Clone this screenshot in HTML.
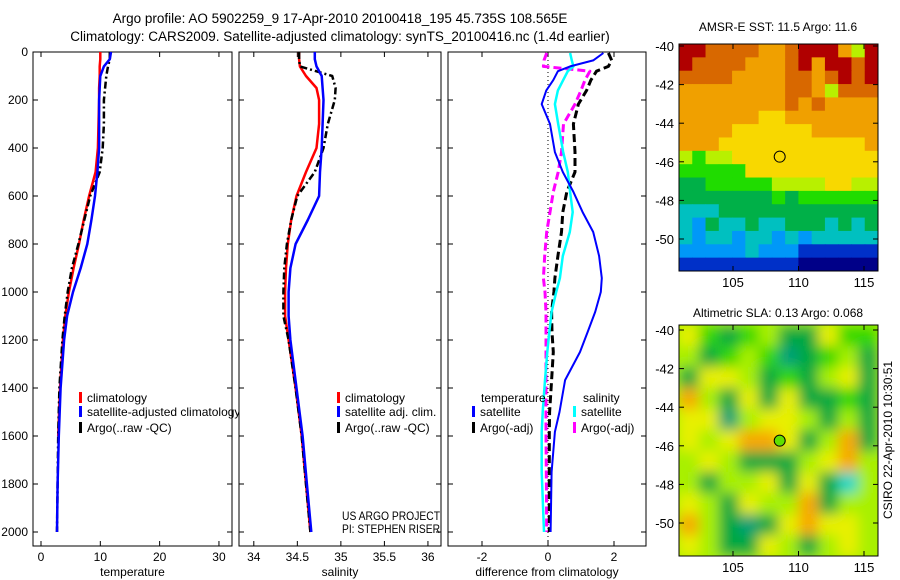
<!DOCTYPE html>
<html><head><meta charset="utf-8"><style>
body{margin:0;background:#fff;}
svg{display:block;font-family:"Liberation Sans",sans-serif;}
</style></head><body>
<svg id="s" width="900" height="580" xmlns="http://www.w3.org/2000/svg">
<defs>
<filter id="bl" x="0" y="0" width="1" height="1"><feGaussianBlur stdDeviation="6.5"/></filter>
<clipPath id="c2"><rect x="679" y="325" width="199" height="231"/></clipPath>
</defs>
<text x="340" y="23" font-size="13.5" text-anchor="middle">Argo profile: AO 5902259_9 17-Apr-2010 20100418_195 45.735S 108.565E</text>
<text x="340" y="41" font-size="13.5" text-anchor="middle">Climatology: CARS2009. Satellite-adjusted climatology: synTS_20100416.nc (1.4d earlier)</text>
<text x="778" y="31" font-size="12" text-anchor="middle">AMSR-E SST: 11.5 Argo: 11.6</text>
<text x="778" y="317" font-size="12" text-anchor="middle">Altimetric SLA: 0.13 Argo: 0.068</text>
<text transform="translate(892,440) rotate(-90)" font-size="12" text-anchor="middle">CSIRO 22-Apr-2010 10:30:51</text>
<g id="g"></g>
</svg>
<script>
const depthsT = [0,30,60,100,150,200,300,400,500,600,700,800,900,1000,1100,1200,1400,1600,1800,2000];
const tempClim = [10.0,10.0,9.9,9.9,9.8,9.8,9.7,9.6,9.2,8.1,7.2,6.4,5.5,4.7,4.1,3.7,3.2,2.9,2.8,2.7];
const tempSat  = [11.8,11.6,10.6,10.0,9.9,9.8,9.8,9.8,9.5,9.1,8.5,7.8,6.7,5.4,4.4,3.9,3.3,3.0,2.8,2.7];
const tempArgo = [11.6,11.6,11.3,11.0,10.8,10.6,10.6,10.4,9.9,8.3,7.3,6.3,5.2,4.5,4.0,3.6,3.1,2.9,2.8,2.7];
const salClim = [34.52,34.52,34.53,34.6,34.72,34.75,34.75,34.72,34.6,34.49,34.43,34.39,34.37,34.36,34.36,34.4,34.48,34.55,34.6,34.65];
const salSat  = [34.70,34.70,34.72,34.78,34.79,34.80,34.79,34.78,34.76,34.75,34.62,34.48,34.42,34.4,34.4,34.42,34.49,34.56,34.61,34.66];
const salArgo = [34.52,34.52,34.53,34.90,34.94,34.93,34.85,34.8,34.7,34.5,34.43,34.38,34.35,34.34,34.34,34.4,34.48,34.55,34.6,34.65];
const depthsD = [4,35,60,80,117,160,217,300,417,500,583,667,750,850,942,1000,1083,1167,1250,1367,1500,1583,1750,2000];
const dTempSat  = [1.68,1.37,0.67,0.3,0.16,-0.05,-0.19,0.06,0.21,0.45,0.77,1.05,1.37,1.55,1.63,1.6,1.43,1.2,0.97,0.52,0.35,0.21,0.11,0.08];
const dTempArgo = [1.83,1.93,1.83,1.47,1.3,1.17,0.92,0.77,0.82,0.82,0.57,0.45,0.41,0.3,0.21,0.18,0.11,0.12,0.16,0.11,0.05,0.04,0.04,0.04];
const dSalSat   = [0.67,0.72,0.77,0.6,0.46,0.3,0.21,0.31,0.46,0.6,0.67,0.75,0.66,0.45,0.36,0.25,0.11,0.04,-0.02,-0.09,-0.16,-0.19,-0.19,-0.12];
const dSalArgo  = [-0.04,-0.12,-0.14,1.27,1.12,1.0,0.82,0.47,0.41,0.31,0.16,0.06,-0.04,-0.1,-0.14,-0.09,-0.06,-0.06,-0.06,-0.06,-0.06,-0.06,-0.05,-0.04];
const depthTicks = [0,200,400,600,800,1000,1200,1400,1600,1800,2000];
const tTicks = [0,10,20,30];
const sTicks = [34,34.5,35,35.5,36];
const dTicks = [-2,0,2];
const sstRows = [
"aa9999889aaa86a",
"a99998889a8aa9a",
"999988889989a9a",
"888888889986999",
"888888889898888",
"888888778888888",
"888877777788888",
"888777777777778",
"656677777777777",
"555557777777777",
"445555566667766",
"444444454555555",
"333444444444444",
"324334334443434",
"323323323233333",
"222223222111111",
"111111111000000"];
const slaRows = ["yGgGlggyGG","lgGlGtgGlg","gyylgGglyg","olgygyggGg","yytlyylglg","ylyooyglog","lylggglyol","lgllygygcl","ylgyllogll","olgtgyoyyl","ylggylglyl"];
const lonTicks=[105,110,115];
const latTicks=[-40,-42,-44,-46,-48,-50];

const NS="http://www.w3.org/2000/svg", G=document.getElementById('g');
function el(t,a,p){const e=document.createElementNS(NS,t);for(const k in a)e.setAttribute(k,a[k]);(p||G).appendChild(e);return e;}
function txt(x,y,s,a,p){const e=el('text',Object.assign({x:x,y:y,'font-size':12},a||{}),p);e.textContent=s;return e;}
const Y0=52,Y1=532; const yD=d=>Y0+(Y1-Y0)*d/2000;
const panels=[
 {x0:33,x1:232,v0:-1.35,v1:32.2,ticks:tTicks,lab:'temperature',name:'temperature-panel'},
 {x0:239,x1:441,v0:33.83,v1:36.15,ticks:sTicks,lab:'salinity',name:'salinity-panel'},
 {x0:448,x1:646,v0:-3.03,v1:2.97,ticks:dTicks,lab:'difference from climatology',name:'difference-panel'}];
panels.forEach(P=>{P.x=v=>P.x0+(v-P.v0)/(P.v1-P.v0)*(P.x1-P.x0);});

function line(P,vals,deps,col,w,dash,name){
 const pts=vals.map((v,i)=>P.x(v).toFixed(1)+','+yD(deps[i]).toFixed(1)).join(' ');
 const e=el('polyline',{points:pts,fill:'none',stroke:col,'stroke-width':w,'stroke-dasharray':dash||'none','stroke-linejoin':'round'});
 
 
}
function frame(P){
 const g=el('g',{});
 
 
 el('rect',{x:P.x0,y:Y0,width:P.x1-P.x0,height:546-Y0,fill:'#fff',stroke:'#000','stroke-width':1},g);
 depthTicks.forEach(d=>{el('line',{x1:P.x0,x2:P.x0+5,y1:yD(d),y2:yD(d),stroke:'#000'},g);el('line',{x1:P.x1,x2:P.x1-5,y1:yD(d),y2:yD(d),stroke:'#000'},g);});
 P.ticks.forEach(t=>{const x=P.x(t);el('line',{x1:x,x2:x,y1:Y0,y2:Y0+5,stroke:'#000'},g);el('line',{x1:x,x2:x,y1:546,y2:541,stroke:'#000'},g);
  const l=txt(x,561,String(t),{'text-anchor':'middle'},g);});
 const xl=txt((P.x0+P.x1)/2,576,P.lab,{'text-anchor':'middle'},g);
 
 
}
depthTicks.forEach(d=>{const l=txt(28,yD(d)+4,String(d),{'text-anchor':'end'});
 
 });

frame(panels[0]);
line(panels[0],tempClim,depthsT.slice(0,18),'#f00',2.5,null,'temp-climatology-line');
line(panels[0],tempArgo,depthsT,'#000',2.5,'7,3,2,3','temp-argo-line');
line(panels[0],tempSat,depthsT,'#00f',2.5,null,'temp-satellite-line');
function leg(x,y,col,s,name){const g=el('g',{});
 el('rect',{x:x,y:y-10,width:3,height:11,fill:col},g);txt(x+8,y,s,{},g);}
leg(79,402,'#f00','climatology','legend-climatology');
leg(79,416,'#00f','satellite-adjusted climatology','legend-satellite-adjusted');
leg(79,432,'#000','Argo(..raw -QC)','legend-argo');
frame(panels[1]);
line(panels[1],salClim,depthsT,'#f00',2.5,null,'sal-climatology-line');
line(panels[1],salArgo,depthsT,'#000',2.5,'7,3,2,3','sal-argo-line');
line(panels[1],salSat,depthsT,'#00f',2.5,null,'sal-satellite-line');
leg(337,402,'#f00','climatology','legend-climatology-2');
leg(337,416,'#00f','satellite adj. clim.','legend-satellite-adj-2');
leg(337,432,'#000','Argo(..raw -QC)','legend-argo-2');
const t1=txt(342,520,'US ARGO PROJECT',{textLength:98,lengthAdjust:'spacingAndGlyphs'});


const t2=txt(342,533,'PI: STEPHEN RISER',{textLength:98,lengthAdjust:'spacingAndGlyphs'});


frame(panels[2]);
el('line',{x1:panels[2].x(0),x2:panels[2].x(0),y1:Y0,y2:546,stroke:'#000','stroke-dasharray':'1,3'});
line(panels[2],dSalArgo,depthsD,'#f0f',3,'8,4','dsal-argo-line');
line(panels[2],dTempArgo,depthsD,'#000',3,'8,4','dtemp-argo-line');
line(panels[2],dSalSat,depthsD,'#0ff',2.5,null,'dsal-satellite-line');
line(panels[2],dTempSat,depthsD,'#00f',2,null,'dtemp-satellite-line');
txt(481,402,'temperature',{});
txt(583,402,'salinity',{});
leg(472,416,'#00f','satellite','legend-dtemp-satellite');
leg(472,432,'#000','Argo(-adj)','legend-dtemp-argo');
leg(573,416,'#0ff','satellite','legend-dsal-satellite');
leg(573,432,'#f0f','Argo(-adj)','legend-dsal-argo');

const sstPal={'0':'#000088','1':'#0030c8','2':'#0098f8','3':'#00c0c0','4':'#00b048','5':'#20dc00','6':'#b8f000','7':'#f8d800','8':'#f0a000','9':'#d86800','a':'#b00000'};
const slaPal={g:'#00a840',G:'#30d800',l:'#a8f000',y:'#e8f000',o:'#f8a800',t:'#00a078',c:'#00d8c8'};
function mapAxes(y0,y1,latY,lonX,name){
 const g=el('g',{});
 el('rect',{x:679,y:y0,width:199,height:y1-y0,fill:'none',stroke:'#000'},g);
 latTicks.forEach(l=>{const y=latY(l);el('line',{x1:679,x2:684,y1:y,y2:y,stroke:'#000'},g);el('line',{x1:878,x2:873,y1:y,y2:y,stroke:'#000'},g);txt(674,y+5,String(l),{'text-anchor':'end','font-size':13},g);});
 lonTicks.forEach(l=>{const x=lonX(l);el('line',{x1:x,x2:x,y1:y1,y2:y1-5,stroke:'#000'},g);el('line',{x1:x,x2:x,y1:y0,y2:y0+5,stroke:'#000'},g);txt(x,y1+16,String(l),{'text-anchor':'middle','font-size':13},g);});
}
const lonX=l=>733+(l-105)*13.1;
const lat1=l=>46+(-40-l)*19.3, lat2=l=>330+(-40-l)*19.3;
(function(){const g=el('g',{});
 const nr=sstRows.length, nc=15, w=199/nc, h=(271-44)/nr;
 sstRows.forEach((r,i)=>{for(let j=0;j<nc;j++){const c=r[j]||'7';const e=el('rect',{x:(679+j*w).toFixed(2),y:(44+i*h).toFixed(2),width:w+0.5,height:h+0.5,fill:sstPal[c]},g);}});
})();
mapAxes(44,271,lat1,lonX,'sst-map-axes');
el('circle',{cx:lonX(108.565),cy:lat1(-45.735),r:5.5,fill:'none',stroke:'#000'});
(function(){const g=el('g',{'clip-path':'url(#c2)'});
 el('rect',{x:679,y:325,width:199,height:231,fill:'#a8f000'},g);
 const f=el('g',{filter:'url(#bl)'},g);
 const nr=slaRows.length,nc=10,w=199/nc,h=231/nr;
 el('rect',{x:660,y:305,width:240,height:270,fill:'#a8f000'},f);
 slaRows.forEach((r,i)=>{for(let j=0;j<nc;j++){const e=el('rect',{x:(679+j*w).toFixed(2),y:(325+i*h).toFixed(2),width:w+0.5,height:h+0.5,fill:slaPal[r[j]]},f);}});
})();
mapAxes(325,556,lat2,lonX,'sla-map-axes');
el('circle',{cx:lonX(108.565),cy:lat2(-45.735),r:5.5,fill:'#60e000',stroke:'#000'});
</script>
</body></html>
